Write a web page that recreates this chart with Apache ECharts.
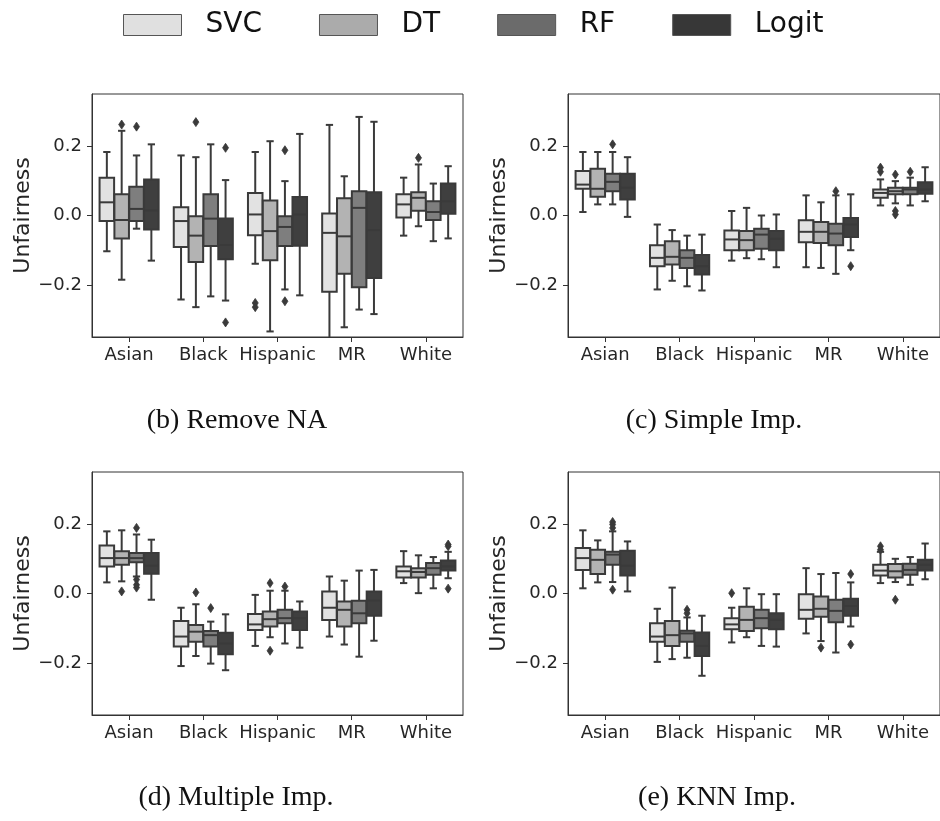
<!DOCTYPE html>
<html>
<head>
<meta charset="utf-8">
<script src="https://cdn.jsdelivr.net/npm/echarts@6/dist/echarts.min.js"></script>
<style>
  html, body { margin: 0; padding: 0; background: #fff; }
  #chart { width: 940px; height: 821px; }
</style>
</head>
<body>
<div id="chart"></div>
<script>
const categories = ["Asian", "Black", "Hispanic", "MR", "White"];
const models = ["SVC", "DT", "RF", "Logit"];
const yTicks = [-0.2, 0, 0.2];

// each row: [lower whisker, Q1, median, Q3, upper whisker], one row per category
const removeNaBoxes = [
  [[-0.103, -0.016, 0.038, 0.109, 0.183], [-0.242, -0.091, -0.016, 0.024, 0.173], [-0.139, -0.057, 0.003, 0.065, 0.183], [-0.40, -0.220, -0.050, 0.006, 0.261], [-0.058, -0.006, 0.032, 0.061, 0.109]],
  [[-0.185, -0.066, -0.013, 0.061, 0.244], [-0.264, -0.134, -0.058, -0.002, 0.168], [-0.334, -0.129, -0.045, 0.043, 0.214], [-0.322, -0.168, -0.060, 0.050, 0.113], [-0.031, 0.014, 0.051, 0.067, 0.147]],
  [[-0.038, -0.016, 0.019, 0.083, 0.173], [-0.233, -0.088, -0.009, 0.061, 0.205], [-0.213, -0.088, -0.033, -0.002, 0.099], [-0.271, -0.207, 0.022, 0.070, 0.284], [-0.074, -0.013, 0.010, 0.041, 0.092]],
  [[-0.130, -0.040, 0.015, 0.104, 0.205], [-0.245, -0.126, -0.085, -0.009, 0.102], [-0.230, -0.087, 0.003, 0.053, 0.235], [-0.284, -0.180, -0.042, 0.067, 0.270], [-0.066, 0.005, 0.041, 0.092, 0.142]],
];
// [model index, category index, value]
const removeNaOutliers = [
  [1, 0, 0.262], [2, 0, 0.256], [1, 1, 0.269], [3, 1, 0.195], [3, 1, -0.308],
  [0, 2, -0.252], [0, 2, -0.264], [2, 2, 0.188], [2, 2, -0.247], [1, 4, 0.166],
];

const simpleBoxes = [
  [[0.010, 0.077, 0.089, 0.128, 0.183], [-0.213, -0.146, -0.122, -0.086, -0.026], [-0.130, -0.100, -0.069, -0.043, 0.013], [-0.149, -0.077, -0.047, -0.014, 0.058], [0.029, 0.051, 0.065, 0.075, 0.104]],
  [[0.032, 0.054, 0.077, 0.135, 0.183], [-0.188, -0.141, -0.119, -0.074, -0.042], [-0.123, -0.100, -0.071, -0.045, 0.022], [-0.151, -0.079, -0.047, -0.019, 0.038], [0.035, 0.061, 0.070, 0.080, 0.099]],
  [[0.032, 0.070, 0.097, 0.120, 0.183], [-0.204, -0.151, -0.122, -0.100, -0.058], [-0.126, -0.096, -0.055, -0.038, 0.000], [-0.168, -0.086, -0.052, -0.024, 0.058], [0.029, 0.061, 0.075, 0.080, 0.109]],
  [[-0.004, 0.046, 0.080, 0.120, 0.168], [-0.216, -0.170, -0.146, -0.114, -0.055], [-0.149, -0.100, -0.067, -0.045, 0.003], [-0.100, -0.062, -0.026, -0.007, 0.061], [0.041, 0.063, 0.075, 0.096, 0.139]],
];
const simpleOutliers = [
  [2, 0, 0.205], [2, 3, 0.070], [3, 3, -0.146], [0, 4, 0.138], [0, 4, 0.126],
  [1, 4, 0.118], [1, 4, 0.013], [1, 4, 0.003], [2, 4, 0.126],
];

const multipleBoxes = [
  [[0.032, 0.078, 0.102, 0.138, 0.179], [-0.209, -0.153, -0.124, -0.079, -0.041], [-0.151, -0.105, -0.089, -0.059, -0.004], [-0.124, -0.076, -0.041, 0.006, 0.049], [0.030, 0.046, 0.064, 0.078, 0.122]],
  [[0.035, 0.083, 0.102, 0.122, 0.182], [-0.180, -0.139, -0.110, -0.091, -0.031], [-0.126, -0.095, -0.074, -0.052, 0.008], [-0.147, -0.095, -0.047, -0.023, 0.037], [0.001, 0.046, 0.062, 0.073, 0.110]],
  [[0.049, 0.090, 0.102, 0.117, 0.170], [-0.202, -0.153, -0.120, -0.108, -0.081], [-0.144, -0.086, -0.071, -0.047, 0.008], [-0.182, -0.086, -0.057, -0.021, 0.066], [0.015, 0.054, 0.073, 0.088, 0.105]],
  [[-0.018, 0.057, 0.080, 0.117, 0.155], [-0.221, -0.175, -0.144, -0.113, -0.060], [-0.156, -0.105, -0.071, -0.052, -0.023], [-0.136, -0.064, -0.020, 0.006, 0.068], [0.044, 0.066, 0.078, 0.095, 0.120]],
];
const multipleOutliers = [
  [1, 0, 0.006], [2, 0, 0.189], [2, 0, 0.040], [2, 0, 0.025], [2, 0, 0.017],
  [1, 1, 0.003], [2, 1, -0.042], [1, 2, 0.030], [1, 2, -0.165], [2, 2, 0.020],
  [3, 4, 0.141], [3, 4, 0.136], [3, 4, 0.014],
];

const knnBoxes = [
  [[0.015, 0.068, 0.102, 0.131, 0.182], [-0.197, -0.139, -0.124, -0.086, -0.044], [-0.141, -0.103, -0.089, -0.071, -0.041], [-0.115, -0.073, -0.047, -0.002, 0.073], [0.030, 0.052, 0.066, 0.083, 0.120]],
  [[0.032, 0.056, 0.097, 0.126, 0.153], [-0.189, -0.151, -0.120, -0.079, 0.017], [-0.126, -0.108, -0.076, -0.038, 0.015], [-0.137, -0.067, -0.044, -0.009, 0.056], [0.033, 0.046, 0.064, 0.085, 0.100]],
  [[0.033, 0.083, 0.112, 0.120, 0.179], [-0.185, -0.139, -0.115, -0.107, -0.069], [-0.151, -0.100, -0.071, -0.047, -0.002], [-0.170, -0.083, -0.050, -0.018, 0.059], [0.025, 0.054, 0.068, 0.086, 0.105]],
  [[0.006, 0.052, 0.080, 0.123, 0.150], [-0.237, -0.180, -0.151, -0.112, -0.064], [-0.153, -0.103, -0.076, -0.057, -0.002], [-0.095, -0.064, -0.036, -0.015, 0.032], [0.041, 0.066, 0.083, 0.097, 0.144]],
];
const knnOutliers = [
  [2, 0, 0.206], [2, 0, 0.199], [2, 0, 0.189], [2, 0, 0.011], [2, 1, -0.047], [2, 1, -0.057],
  [0, 2, 0.001], [1, 3, -0.156], [3, 3, 0.056], [3, 3, -0.147],
  [0, 4, 0.136], [0, 4, 0.126], [1, 4, -0.018],
];

const panels = [
  { caption: "(b) Remove NA", boxes: removeNaBoxes, outliers: removeNaOutliers },
  { caption: "(c) Simple Imp.", boxes: simpleBoxes, outliers: simpleOutliers },
  { caption: "(d) Multiple Imp.", boxes: multipleBoxes, outliers: multipleOutliers },
  { caption: "(e) KNN Imp.", boxes: knnBoxes, outliers: knnOutliers },
];

const gridRects = [
  { left: 92, top: 94, width: 371, height: 243 },
  { left: 568, top: 94, width: 373, height: 243 },
  { left: 92, top: 472, width: 371, height: 243 },
  { left: 568, top: 472, width: 373, height: 243 },
];
const captionPos = [[237, 421], [714, 421], [236, 798], [717, 798]];

const boxColors = ["#e2e2e2", "#b3b3b3", "#7e7e7e", "#3f3f3f"];
const legendColors = ["#e0e0e0", "#ababab", "#6b6b6b", "#373737"];
const edgeColor = "#3a3a3a";
const textColor = "#262626";
const tickFont = "DejaVu Sans";
const strokeW = 2;

function hueCenter(api, cat, hue) {
  const band = api.size([1, 0])[0];
  const step = (band * 0.8) / models.length;
  const cx = api.coord([cat, 0])[0] + (hue - (models.length - 1) / 2) * step;
  return { cx, half: (step * 0.98) / 2 };
}

function boxRenderer(hue) {
  return function (params, api) {
    const cat = api.value(0);
    const { cx, half } = hueCenter(api, cat, hue);
    const area = params.coordSys;
    const bottom = area.y + area.height;
    const y = (i) => api.coord([cat, api.value(i)])[1];
    const yLow = y(1), yQ1 = y(2), yMed = y(3), yQ3 = y(4), yHigh = y(5);
    const line = { stroke: edgeColor, lineWidth: strokeW };
    const cap = half / 2;
    const children = [
      { type: "line", shape: { x1: cx, y1: Math.min(yLow, bottom), x2: cx, y2: yQ1 }, style: line },
      { type: "line", shape: { x1: cx, y1: yQ3, x2: cx, y2: Math.max(yHigh, area.y) }, style: line },
    ];
    if (yLow <= bottom) {
      children.push({ type: "line", shape: { x1: cx - cap, y1: yLow, x2: cx + cap, y2: yLow }, style: line });
    }
    if (yHigh >= area.y) {
      children.push({ type: "line", shape: { x1: cx - cap, y1: yHigh, x2: cx + cap, y2: yHigh }, style: line });
    }
    children.push({
      type: "rect",
      shape: { x: cx - half, y: yQ3, width: half * 2, height: yQ1 - yQ3 },
      style: { fill: boxColors[hue], stroke: edgeColor, lineWidth: strokeW },
    });
    children.push({ type: "line", shape: { x1: cx - half, y1: yMed, x2: cx + half, y2: yMed }, style: line });
    return { type: "group", children };
  };
}

function outlierRenderer(params, api) {
  const hue = api.value(0);
  const cat = api.value(1);
  const { cx } = hueCenter(api, cat, hue);
  const cy = api.coord([cat, api.value(2)])[1];
  return {
    type: "polygon",
    shape: { points: [[cx, cy - 4.5], [cx + 3, cy], [cx, cy + 4.5], [cx - 3, cy]] },
    style: { fill: edgeColor, stroke: edgeColor, lineWidth: 0.8 },
  };
}

const grids = gridRects.map((r) => ({ ...r, show: true, borderColor: "#333", borderWidth: 1, backgroundColor: "transparent" }));

const xAxes = gridRects.map((r, i) => ({
  type: "category",
  gridIndex: i,
  data: categories,
  axisLine: { show: true, onZero: false, lineStyle: { color: "#333", width: 1 } },
  axisTick: { show: true, alignWithLabel: true, length: 5, lineStyle: { color: "#333" } },
  axisLabel: { interval: 0, margin: 9, fontSize: 18, fontFamily: tickFont, color: textColor },
  splitLine: { show: false },
}));

const yAxes = gridRects.map((r, i) => ({
  type: "value",
  gridIndex: i,
  min: -0.35,
  max: 0.35,
  name: "Unfairness",
  nameLocation: "middle",
  nameGap: 56,
  nameTextStyle: { fontSize: 22, fontFamily: tickFont, color: textColor },
  axisLine: { show: true, onZero: false, lineStyle: { color: "#333", width: 1 } },
  axisTick: { show: true, length: 5, customValues: yTicks, lineStyle: { color: "#333" } },
  axisLabel: {
    customValues: yTicks,
    margin: 10,
    fontSize: 18,
    fontFamily: tickFont,
    color: textColor,
    formatter: (v) => v.toFixed(1).replace("-", "\u2212"),
  },
  splitLine: { show: false },
}));

const series = [];
panels.forEach((panel, p) => {
  models.forEach((model, m) => {
    series.push({
      type: "custom",
      name: model,
      xAxisIndex: p,
      yAxisIndex: p,
      itemStyle: { color: legendColors[m] },
      renderItem: boxRenderer(m),
      encode: { x: 0, y: [1, 2, 3, 4, 5] },
      data: panel.boxes[m].map((row, c) => [c, ...row]),
      silent: true,
    });
  });
  series.push({
    type: "custom",
    name: "outliers " + p,
    xAxisIndex: p,
    yAxisIndex: p,
    renderItem: outlierRenderer,
    encode: { x: 1, y: 2 },
    data: panel.outliers,
    silent: true,
    z: 3,
  });
});

const chart = echarts.init(document.getElementById("chart"), null, { renderer: "canvas" });
chart.setOption({
  animation: false,
  backgroundColor: "#fff",
  legend: {
    left: 118,
    top: 6,
    icon: "rect",
    itemWidth: 58,
    itemHeight: 21,
    itemGap: 57,
    selectedMode: false,
    textStyle: { fontSize: 28, fontFamily: tickFont, color: "#111", padding: [0, 0, 0, 19] },
    data: models.map((name, i) => ({
      name,
      itemStyle: { color: legendColors[i], borderColor: "#555", borderWidth: 1 },
    })),
  },
  grid: grids,
  xAxis: xAxes,
  yAxis: yAxes,
  series,
  graphic: panels.map((panel, p) => ({
    type: "text",
    x: captionPos[p][0],
    y: captionPos[p][1],
    style: {
      text: panel.caption,
      align: "center",
      verticalAlign: "middle",
      font: '28px "Liberation Serif"',
      fill: "#111",
    },
  })),
});
</script>
</body>
</html>
